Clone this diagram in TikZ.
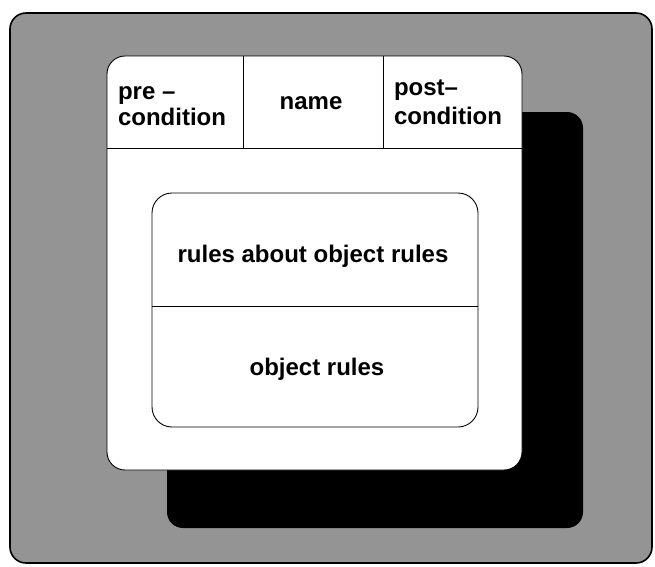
\documentclass[tikz,border=0pt]{standalone}
\usepackage{fontspec}
\setmainfont{Liberation Sans}
\usetikzlibrary{positioning,calc}

\begin{document}
\begin{tikzpicture}[x=1pt, y=-1pt,
  panel/.style={draw=black, line width=1.6pt, rounded corners=16pt,
               fill=black!42, outer sep=0pt, inner sep=0pt},
  shade/.style={fill=black, rounded corners=16pt, outer sep=0pt, inner sep=0pt},
  card/.style={draw=black, line width=0.9pt, fill=white, rounded corners=18pt,
               outer sep=0pt, inner sep=0pt},
  rulebox/.style={draw=black, line width=0.9pt, fill=white, rounded corners=20pt,
               outer sep=0pt, inner sep=0pt},
  sep/.style={line width=0.9pt},
  lbl/.style={font=\bfseries\fontsize{24}{26}\selectfont, align=left, inner sep=0pt},
]
\useasboundingbox (0,0) rectangle (655,566);

% grey panel, black shadow, white card
\node[panel, anchor=north west, minimum width=642pt, minimum height=550pt] (back) at (10,13) {};
\node[shade, anchor=north west, minimum width=416pt, minimum height=416pt] (shadow) at (167,112) {};
\node[card, anchor=north west, minimum width=415pt, minimum height=414pt] (card) at (107,56) {};

% header row
\coordinate (hdr) at (0,148);
\coordinate (c1) at (243,148);
\coordinate (c2) at (383,148);
\draw[sep] (card.west |- hdr) -- (card.east |- hdr);
\draw[sep] (c1) -- (c1 |- card.north);
\draw[sep] (c2) -- (c2 |- card.north);

\node[lbl] (pre) at (172,106) {pre --\\condition};
\node[lbl, anchor=base] (name) at (311,109) {name};
\node[lbl] (post) at (448,102) {post--\\[3pt]condition};

% rule part
\node[rulebox, anchor=north west, minimum width=326pt, minimum height=234pt] (rules) at (152,193) {};
\coordinate (mid) at (0,306);
\draw[sep] (rules.west |- mid) -- (rules.east |- mid);

\node[lbl, anchor=base] (meta) at (313,262) {rules about object rules};
\node[lbl, anchor=base] (obj) at (317,375) {object rules};

\end{tikzpicture}
\end{document}
